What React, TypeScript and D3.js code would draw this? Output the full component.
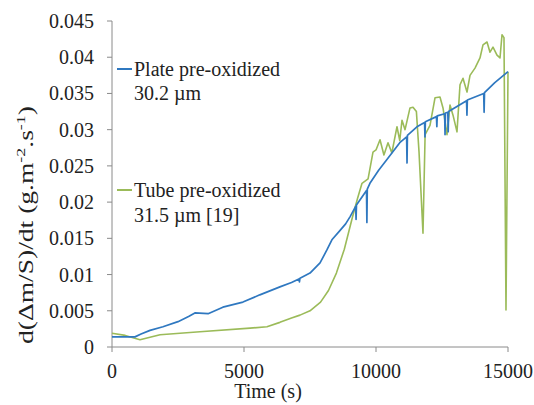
import React from "react";
import * as d3 from "d3";

const xTicks = [0, 5000, 10000, 15000];
const yTicks = [0, 0.005, 0.01, 0.015, 0.02, 0.025, 0.03, 0.035, 0.04, 0.045];
const yTickLabels = ["0", "0.005", "0.01", "0.015", "0.02", "0.025", "0.03", "0.035", "0.04", "0.045"];

// Plate pre-oxidized 30.2 µm : [time (s), rate]
const plateSeries: [number, number][] = [
  [0, 0.0014], [870, 0.0014], [1100, 0.0018], [1440, 0.0023], [1930, 0.0028], [2500, 0.0035],
  [2900, 0.0042], [3140, 0.0047], [3640, 0.0046], [4200, 0.0055], [4960, 0.0062], [5600, 0.0072],
  [6360, 0.0083], [6800, 0.0089], [7080, 0.0094], [7100, 0.0090], [7120, 0.0095], [7500, 0.0102],
  [7880, 0.0116], [8140, 0.0134], [8330, 0.0148], [8640, 0.0161], [8850, 0.0170], [9020, 0.018],
  [9230, 0.0194], [9245, 0.0176], [9260, 0.0196], [9640, 0.0216], [9655, 0.0172], [9670, 0.0218],
  [9770, 0.0226], [10100, 0.0244], [10400, 0.0258], [10900, 0.0282], [11160, 0.0290], [11175, 0.0254],
  [11190, 0.0292], [11550, 0.0304], [11840, 0.0310], [11855, 0.0290], [11870, 0.0311], [12290, 0.0318],
  [12305, 0.0304], [12320, 0.0319], [12600, 0.0322], [12615, 0.0293], [12630, 0.0323],
  [12720, 0.0324], [12735, 0.0297], [12750, 0.0325], [13430, 0.0340], [13445, 0.0320],
  [13460, 0.0341], [14080, 0.0350], [14095, 0.0324], [14110, 0.0351], [14500, 0.0365],
  [15000, 0.038],
];

// Tube pre-oxidized 31.5 µm [19] : [time (s), rate]
const tubeSeries: [number, number][] = [
  [0, 0.0019], [500, 0.0016], [1060, 0.0010], [1820, 0.0017], [3330, 0.0021],
  [5230, 0.0026], [5870, 0.0028], [6360, 0.0034], [6800, 0.0040], [7120, 0.0044],
  [7500, 0.0050], [7900, 0.0062], [8200, 0.0078], [8500, 0.0102], [8800, 0.0135],
  [9100, 0.0178], [9300, 0.0205], [9470, 0.0226], [9700, 0.0232], [9886, 0.0269],
  [10000, 0.0272], [10152, 0.0286],
  [10300, 0.0265], [10455, 0.0282], [10600, 0.0268], [10795, 0.0304], [10900, 0.0285],
  [10985, 0.0313], [11100, 0.0300], [11288, 0.033], [11402, 0.0331], [11530, 0.0325],
  [11630, 0.0269], [11780, 0.0157], [11860, 0.0293], [12045, 0.0306], [12235, 0.0344],
  [12424, 0.0345], [12538, 0.033], [12689, 0.0293], [12803, 0.0334], [12917, 0.032],
  [13068, 0.0297], [13182, 0.0362], [13295, 0.0371], [13447, 0.0352], [13561, 0.0375],
  [13750, 0.0385], [13939, 0.0399], [14053, 0.0417], [14205, 0.0421], [14318, 0.0407],
  [14432, 0.0414], [14583, 0.0403], [14697, 0.0399], [14773, 0.0431], [14848, 0.0427],
  [14924, 0.0051], [15000, 0.038],
];

const legendLabels = [
  ["Plate pre-oxidized", "30.2 µm"],
  ["Tube pre-oxidized", "31.5 µm [19]"],
];

const W = 534;
const H = 405;
const left = 112;
const right = 508;
const top = 21;
const bottom = 347;
const FONT = "'Liberation Serif', 'Times New Roman', serif";
const BLUE = "#2f78c0";
const GREEN = "#9bbb59";
const AXIS = "#8a8a8a";
const TEXT = "#222";

export default function App() {
  const x = d3.scaleLinear().domain([0, 15000]).range([left, right]);
  const y = d3.scaleLinear().domain([0, 0.045]).range([bottom, top]);
  const line = d3
    .line<[number, number]>()
    .x((d) => x(d[0]))
    .y((d) => y(d[1]));

  const txt = { fontFamily: FONT };

  return (
    <svg
      width={W}
      height={H}
      style={{ position: "absolute", left: 0, top: 0, background: "#fff", fontFamily: FONT }}
    >
      {/* axes */}
      <line x1={left} x2={left} y1={top} y2={bottom} stroke={AXIS} strokeWidth={1} />
      <line x1={left} x2={right} y1={bottom} y2={bottom} stroke={AXIS} strokeWidth={1} />
      {yTicks.map((t, i) => (
        <g key={"y" + i}>
          <line x1={left - 5} x2={left} y1={y(t)} y2={y(t)} stroke={AXIS} />
          <text
            x={left - 18}
            y={y(t)}
            dy="0.35em"
            textAnchor="end"
            fontSize={20}
            fill={TEXT}
            style={txt}
          >
            {yTickLabels[i]}
          </text>
        </g>
      ))}
      {xTicks.map((t, i) => (
        <g key={"x" + i}>
          <line x1={x(t)} x2={x(t)} y1={bottom} y2={bottom + 5} stroke={AXIS} />
          <text x={x(t)} y={bottom + 31} textAnchor="middle" fontSize={20} fill={TEXT} style={txt}>
            {t}
          </text>
        </g>
      ))}
      <text x={268} y={398} textAnchor="middle" fontSize={20} fill={TEXT} style={txt}>
        Time (s)
      </text>
      <text
        transform={`translate(33, 225) rotate(-90)`}
        textAnchor="middle"
        fontSize={20}
        fill={TEXT}
        style={txt}
        textLength={238}
        lengthAdjust="spacingAndGlyphs"
      >
        d(Δm/S)/dt (g.m
        <tspan dy={-8} fontSize={13}>-2</tspan>
        <tspan dy={8}>.s</tspan>
        <tspan dy={-8} fontSize={13}>-1</tspan>
        <tspan dy={8}>)</tspan>
      </text>

      {/* series */}
      <path d={line(tubeSeries) ?? ""} fill="none" stroke={GREEN} strokeWidth={1.6} strokeLinejoin="round" />
      <path d={line(plateSeries) ?? ""} fill="none" stroke={BLUE} strokeWidth={1.7} strokeLinejoin="round" />

      {/* legend */}
      <line x1={117} x2={132} y1={69} y2={69} stroke={BLUE} strokeWidth={2} />
      <text x={134} y={76} fontSize={20} fill={TEXT} style={txt}>{legendLabels[0][0]}</text>
      <text x={134} y={100} fontSize={20} fill={TEXT} style={txt}>{legendLabels[0][1]}</text>
      <line x1={117} x2={132} y1={190} y2={190} stroke={GREEN} strokeWidth={2} />
      <text x={134} y={197} fontSize={20} fill={TEXT} style={txt}>{legendLabels[1][0]}</text>
      <text x={134} y={222} fontSize={20} fill={TEXT} style={txt}>{legendLabels[1][1]}</text>
    </svg>
  );
}
